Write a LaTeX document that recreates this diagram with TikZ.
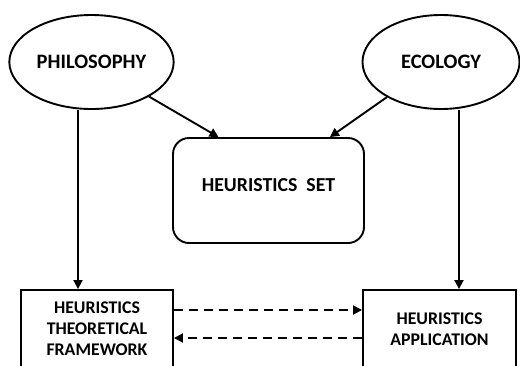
\documentclass[tikz,border=0pt]{standalone}
\usepackage{fontspec}
\setmainfont{Carlito}
\usetikzlibrary{arrows.meta,shapes.geometric,calc}
\tikzset{
  every node/.style={font=\bfseries},
  topic/.style={ellipse, draw, line width=1.9pt, minimum width=163pt, minimum height=94pt, font=\bfseries\fontsize{20.5}{24}\selectfont},
  setbox/.style={draw, line width=1.9pt, rounded corners=16pt, minimum width=191pt, minimum height=105pt, text depth=10pt, font=\bfseries\fontsize{19.8}{24}\selectfont},
  outbox/.style={draw, line width=1.9pt, minimum width=152pt, minimum height=78pt, align=center, font=\bfseries\fontsize{17.8}{21}\selectfont},
  arr/.style={line width=1.9pt, -{Triangle[length=9pt,width=9pt]}},
  dasharr/.style={arr, dash pattern=on 9pt off 6pt}
}
\begin{document}
\begin{tikzpicture}[x=1pt,y=-1pt]
\useasboundingbox (0,0) rectangle (520,365);
\clip (0,0) rectangle (520,365);

% sources
\node[topic] (phil) at (91.5,62) {PHILOSOPHY};
\node[topic, minimum width=157pt] (eco) at (441,62) {ECOLOGY};

% central set
\node[setbox] (set) at (268.5,190.5) {HEURISTICS\ \ SET};

% outputs
\node[outbox] (theo) at (97,329) {HEURISTICS\\THEORETICAL\\FRAMEWORK};
\node[outbox, minimum width=153pt] (app) at (439.5,329) {HEURISTICS\\APPLICATION};

% attachment points
\coordinate (tA) at ($(theo.north)+(-19,0)$);
\coordinate (aA) at ($(app.north)+(19.5,0)$);
\coordinate (sL) at ($(set.north)+(-50,0)$);
\coordinate (sR) at ($(set.north)+(61.5,0)$);
\coordinate (d1) at ($(theo.east)+(0,-19)$);
\coordinate (d2) at ($(theo.east)+(0,9)$);

% connectors
\draw[arr] (phil.-31) -- (sL);
\draw[arr] (eco.213) -- (sR);
\draw[arr] (tA |- phil.south) -- (tA);
\draw[arr] (aA |- eco.south) -- (aA);
\draw[dasharr] (d1) -- (d1 -| app.west);
\draw[dasharr] (d2 -| app.west) -- (d2);
\end{tikzpicture}
\end{document}
